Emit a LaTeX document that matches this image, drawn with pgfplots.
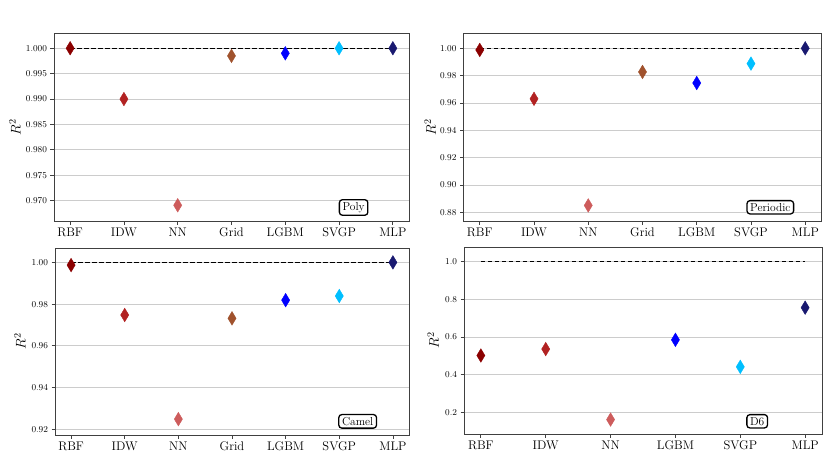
\documentclass[border=0pt]{standalone}
\usepackage{pgfplots}
\usepackage{fix-cm}
\pgfplotsset{compat=1.18}
\definecolor{cRBF}{HTML}{8B0000}
\definecolor{cIDW}{HTML}{B22222}
\definecolor{cNN}{HTML}{CD5C5C}
\definecolor{cGrid}{HTML}{A0522D}
\definecolor{cLGBM}{HTML}{0000FF}
\definecolor{cSVGP}{HTML}{00BFFF}
\definecolor{cMLP}{HTML}{191970}
\definecolor{frame}{HTML}{404040}
\tikzset{tag/.style={draw=black, rounded corners=3pt, line width=1.3pt, fill=white, inner xsep=3.2pt, inner ysep=2.6pt, font=\fontsize{11.5}{13}\selectfont}}
\pgfplotsset{
  panel/.style={
    scale only axis,
    axis line style={draw=frame, line width=0.8pt},
    ymajorgrids, grid style={black!20, line width=0.8pt},
    tick align=outside, xtick pos=bottom, ytick pos=left,
    major tick length=3.5pt,
    tick style={draw=frame, line width=0.8pt},
    yticklabel style={font=\fontsize{9}{10}\selectfont},
    xticklabel style={font=\fontsize{12.5}{14}\selectfont},
    ylabel={$R^2$},
    ylabel style={font=\fontsize{14}{16}\selectfont},
  },
  pt/.style={only marks, mark=diamond*, mark size=6.8pt, mark options={xscale=0.8, draw=#1, fill=#1}},
  ref/.style={black, line width=1.2pt, dash pattern=on 4.5pt off 2.5pt},
}
\begin{document}
\begin{tikzpicture}
\useasboundingbox (0,0) rectangle (830pt,475pt);
% Top left: Poly
\begin{axis}[panel, at={(54pt,254pt)}, anchor=south west, width=355pt, height=188pt,
  xmin=-0.3, xmax=6.3, ymin=0.966, ymax=1.003,
  xtick={0,1,2,3,4,5,6}, xticklabels={RBF,IDW,NN,Grid,LGBM,SVGP,MLP},
  ytick={0.970,0.975,0.980,0.985,0.990,0.995,1.000},
  yticklabel style={/pgf/number format/.cd, fixed, fixed zerofill, precision=3},
  ylabel style={at={(axis description cs:-0.11,0.5)}, anchor=center}]
\addplot[ref] coordinates {(0,1) (6,1)};
\addplot[pt=cRBF] coordinates {(0,1.0000)};
\addplot[pt=cIDW] coordinates {(1,0.9900)};
\addplot[pt=cNN] coordinates {(2,0.9691)};
\addplot[pt=cGrid] coordinates {(3,0.9985)};
\addplot[pt=cLGBM] coordinates {(4,0.9990)};
\addplot[pt=cSVGP] coordinates {(5,1.0000)};
\addplot[pt=cMLP] coordinates {(6,1.0000)};
\node[tag] at (rel axis cs:0.844,0.072) {Poly};
\end{axis}
% Top right: Periodic
\begin{axis}[panel, at={(463.5pt,254pt)}, anchor=south west, width=358pt, height=188pt,
  xmin=-0.3, xmax=6.3, ymin=0.8736, ymax=1.0112,
  xtick={0,1,2,3,4,5,6}, xticklabels={RBF,IDW,NN,Grid,LGBM,SVGP,MLP},
  ytick={0.88,0.90,0.92,0.94,0.96,0.98,1.00},
  yticklabel style={/pgf/number format/.cd, fixed, fixed zerofill, precision=2},
  ylabel style={at={(axis description cs:-0.093,0.5)}, anchor=center}]
\addplot[ref] coordinates {(0,1) (6,1)};
\addplot[pt=cRBF] coordinates {(0,0.9988)};
\addplot[pt=cIDW] coordinates {(1,0.9630)};
\addplot[pt=cNN] coordinates {(2,0.8850)};
\addplot[pt=cGrid] coordinates {(3,0.9827)};
\addplot[pt=cLGBM] coordinates {(4,0.9746)};
\addplot[pt=cSVGP] coordinates {(5,0.9888)};
\addplot[pt=cMLP] coordinates {(6,1.0000)};
\node[tag] at (rel axis cs:0.857,0.073) {Periodic};
\end{axis}
% Bottom left: Camel
\begin{axis}[panel, at={(55pt,40pt)}, anchor=south west, width=354pt, height=187pt,
  xmin=-0.3, xmax=6.3, ymin=0.9173, ymax=1.0069,
  xtick={0,1,2,3,4,5,6}, xticklabels={RBF,IDW,NN,Grid,LGBM,SVGP,MLP},
  ytick={0.92,0.94,0.96,0.98,1.00},
  yticklabel style={/pgf/number format/.cd, fixed, fixed zerofill, precision=2},
  ylabel style={at={(axis description cs:-0.099,0.5)}, anchor=center}]
\addplot[ref] coordinates {(0,1) (6,1)};
\addplot[pt=cRBF] coordinates {(0,0.9987)};
\addplot[pt=cIDW] coordinates {(1,0.9748)};
\addplot[pt=cNN] coordinates {(2,0.9249)};
\addplot[pt=cGrid] coordinates {(3,0.9732)};
\addplot[pt=cLGBM] coordinates {(4,0.9819)};
\addplot[pt=cSVGP] coordinates {(5,0.9839)};
\addplot[pt=cMLP] coordinates {(6,1.0000)};
\node[tag] at (rel axis cs:0.855,0.073) {Camel};
\end{axis}
% Bottom right: D6
\begin{axis}[panel, at={(464pt,41pt)}, anchor=south west, width=358pt, height=187pt,
  xmin=-0.26, xmax=5.26, ymin=0.0867, ymax=1.076,
  xtick={0,1,2,3,4,5}, xticklabels={RBF,IDW,NN,LGBM,SVGP,MLP},
  ytick={0.2,0.4,0.6,0.8,1.0},
  yticklabel style={/pgf/number format/.cd, fixed, fixed zerofill, precision=1},
  ylabel style={at={(axis description cs:-0.086,0.5)}, anchor=center}]
\addplot[ref] coordinates {(0,1) (5,1)};
\addplot[pt=cRBF] coordinates {(0,0.502)};
\addplot[pt=cIDW] coordinates {(1,0.536)};
\addplot[pt=cNN] coordinates {(2,0.163)};
\addplot[pt=cLGBM] coordinates {(3,0.585)};
\addplot[pt=cSVGP] coordinates {(4,0.442)};
\addplot[pt=cMLP] coordinates {(5,0.755)};
\node[tag] at (rel axis cs:0.819,0.068) {D6};
\end{axis}
\end{tikzpicture}
\end{document}
